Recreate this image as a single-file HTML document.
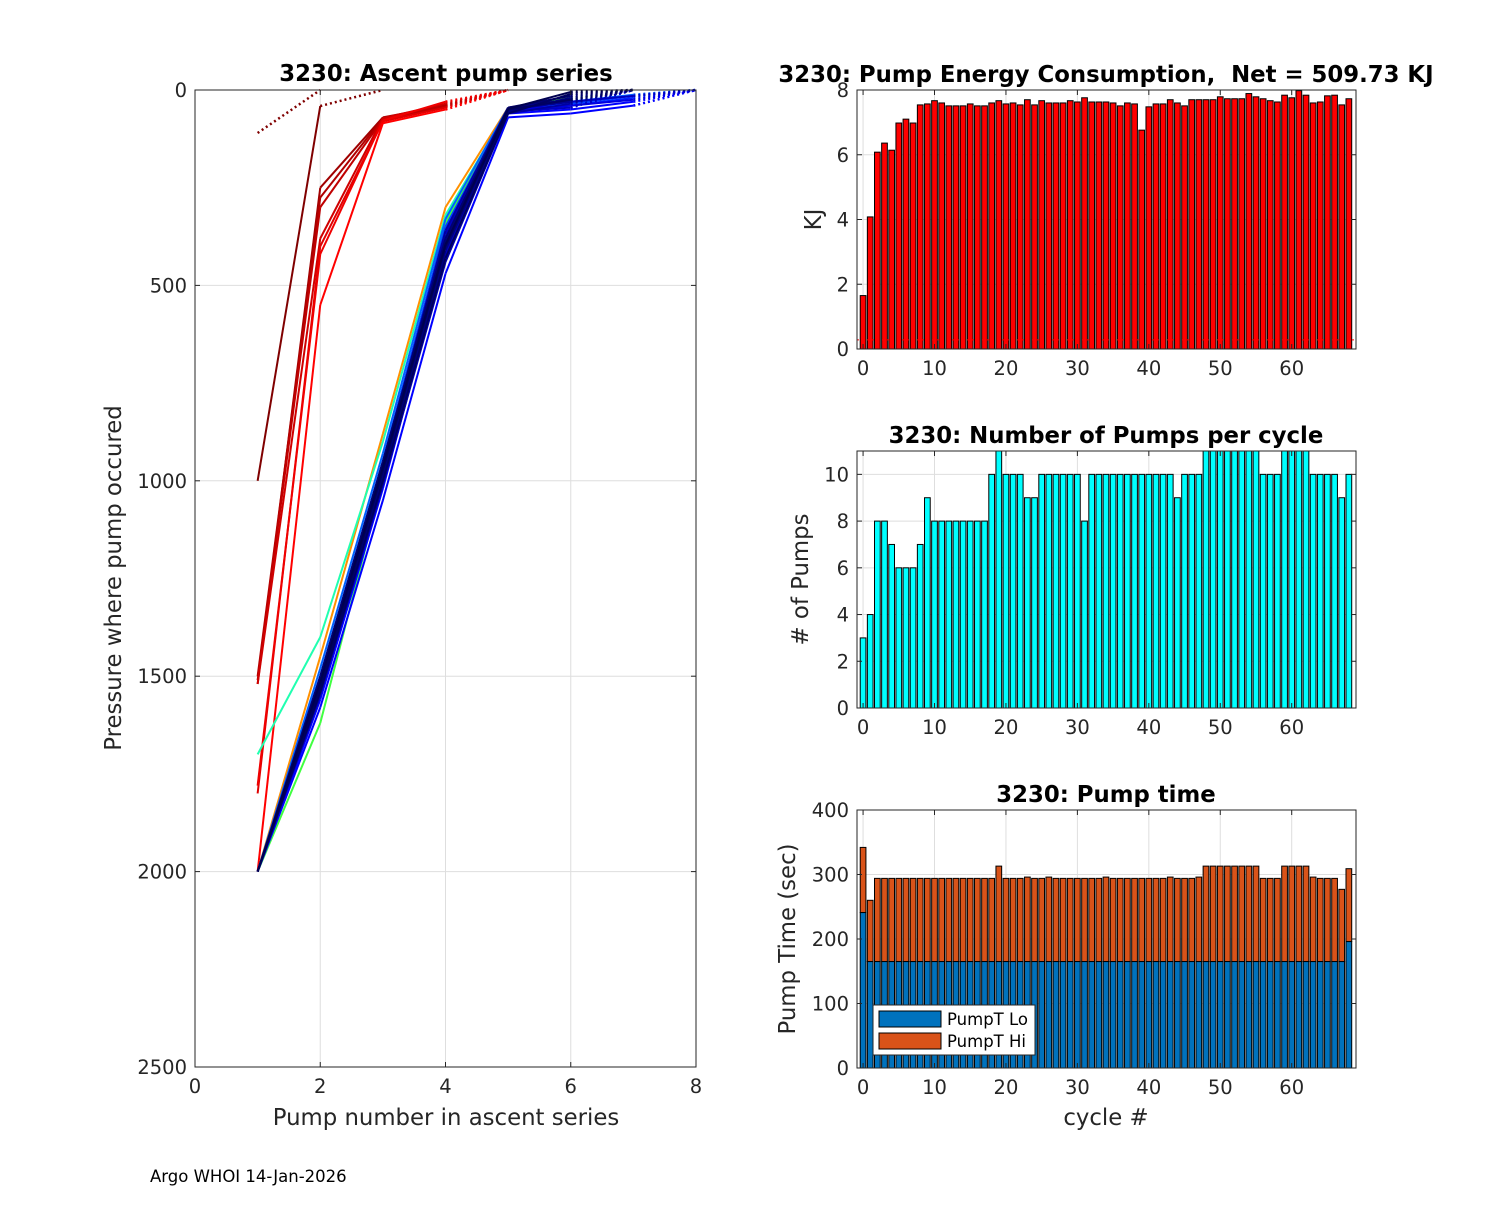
<!DOCTYPE html>
<html><head><meta charset="utf-8"><style>
body{margin:0;background:#fff;width:1500px;height:1200px;overflow:hidden}
svg{font-family:"DejaVu Sans","Liberation Sans",sans-serif}
</style></head><body>
<svg id="fig" width="1500" height="1200" xmlns="http://www.w3.org/2000/svg">
<rect width="1500" height="1200" fill="#fff"/>
<text x="150" y="1182" font-size="16.5" fill="#000">Argo WHOI 14-Jan-2026</text>
</svg>
<script>
const cycles = Array.from({length:69},(_,i)=>i);
const energyKJ = [1.65,4.08,6.08,6.36,6.14,6.98,7.1,6.98,7.54,7.57,7.67,7.6,7.51,7.51,7.51,7.57,7.51,7.51,7.6,7.67,7.57,7.6,7.54,7.7,7.54,7.67,7.6,7.6,7.6,7.67,7.63,7.76,7.63,7.63,7.63,7.6,7.51,7.6,7.57,6.76,7.48,7.57,7.57,7.7,7.6,7.51,7.7,7.7,7.7,7.7,7.79,7.73,7.73,7.73,7.89,7.79,7.73,7.67,7.63,7.84,7.76,7.98,7.84,7.6,7.63,7.82,7.84,7.54,7.73];
const numPumps = [3,4,8,8,7,6,6,6,7,9,8,8,8,8,8,8,8,8,10,11,10,10,10,9,9,10,10,10,10,10,10,8,10,10,10,10,10,10,10,10,10,10,10,10,9,10,10,10,11,11,11,11,11,11,11,11,10,10,10,11,11,11,11,10,10,10,10,9,10];
const pumpLo = [241,165,165,165,165,165,165,165,165,165,165,165,165,165,165,165,165,165,165,165,165,165,165,165,165,165,165,165,165,165,165,165,165,165,165,165,165,165,165,165,165,165,165,165,165,165,165,165,165,165,165,165,165,165,165,165,165,165,165,165,165,165,165,165,165,165,165,165,196];
const pumpTotal = [342,260,294,294,294,294,294,294,294,294,294,294,294,294,294,294,294,294,294,313,294,294,294,296,294,294,296,294,294,294,294,294,294,294,296,294,294,294,294,294,294,294,294,296,294,294,294,296,313,313,313,313,313,313,313,313,294,294,294,313,313,313,313,296,294,294,294,277,309];
const profiles = [
 {c:"#800000",p:[110,0]},
 {c:"#800000",p:[1000,41,0]},
 {c:"#a00000",p:[1520,250,70,40,0]},
 {c:"#b00000",p:[1500,275,72,38,0]},
 {c:"#c00000",p:[1510,300,75,42,0]},
 {c:"#d00000",p:[1520,380,72,35,0]},
 {c:"#e00000",p:[1800,400,80,45,0]},
 {c:"#f00000",p:[1780,420,78,30,0]},
 {c:"#ff0000",p:[2000,550,85,50,0]},
 {c:"#ff9000",p:[2000,1450,880,300,45,20,0]},
 {c:"#20ffb0",p:[1700,1400,900,320,50,25,0]},
 {c:"#40ff40",p:[2000,1620,1000,340,50,20,0]},
 {c:"#0060ff",p:[2000,1480,930,330,45,30,12,0]},
 {c:"#0040ff",p:[2000,1500,950,350,50,35,15,0]},
 {c:"#0020ff",p:[2000,1530,980,380,55,40,20,0]},
 {c:"#0000ff",p:[2000,1560,1020,420,60,50,30,0]},
 {c:"#0000ff",p:[2000,1580,1050,470,70,60,40,0]},
 {c:"#0000e0",p:[2000,1540,990,400,50,40,25,0]},
 {c:"#0000c0",p:[2000,1520,970,370,50,30,15,0]},
 {c:"#0000c0",p:[2000,1550,1000,420,55,45,0]},
 {c:"#0000a0",p:[2000,1510,960,360,45,25,0]},
 {c:"#0000a0",p:[2000,1545,1010,440,60,35,0]},
 {c:"#000090",p:[2000,1520,980,390,50,30,0]},
 {c:"#000080",p:[2000,1530,990,410,55,20,0]},
 {c:"#000070",p:[2000,1500,950,380,45,15,0]},
 {c:"#000060",p:[2000,1540,1000,430,60,10,0]},
 {c:"#000060",p:[2000,1525,975,400,50,25,0]},
 {c:"#000050",p:[2000,1515,965,395,48,5,0]}
];
const pyTicks=[0,500,1000,1500,2000,2500], pxTicks=[0,2,4,6,8];
const cxTicks=[0,10,20,30,40,50,60];

const NS="http://www.w3.org/2000/svg", svg=document.getElementById('fig');
function mk(tag,at,parent){const e=document.createElementNS(NS,tag);for(const k in at)e.setAttribute(k,at[k]);(parent||svg).appendChild(e);return e;}
function txt(s,x,y,size,anchor,bold,parent){const t=mk('text',{x:x,y:y,'font-size':size,'text-anchor':anchor||'middle',fill:bold?'#000':'#262626','font-weight':bold?'bold':'normal'},parent);t.textContent=s;return t;}
const TICK=19.5, LAB=22.8, TIT=22.8;

const L={x0:195,x1:696,y0:90,y1:1067};
const lx=v=>L.x0+v/8*(L.x1-L.x0), ly=v=>L.y0+v/2500*(L.y1-L.y0);
const gL=mk('g',{});


pxTicks.forEach(t=>{mk('line',{x1:lx(t),x2:lx(t),y1:L.y0,y2:L.y1,stroke:'#dedede'},gL);});
pyTicks.forEach(t=>{mk('line',{x1:L.x0,x2:L.x1,y1:ly(t),y2:ly(t),stroke:'#dedede'},gL);});
profiles.forEach((pr,i)=>{
  const n=pr.p.length;
  for(let k=0;k<n-1;k++){
    const last=(k===n-2);
    const l=mk('line',{x1:lx(k+1),y1:ly(pr.p[k]),x2:lx(k+2),y2:ly(pr.p[k+1]),stroke:pr.c,'stroke-width':last?2.5:2,'stroke-dasharray':last?'2 3':'none'},gL);
    
    
  }
});
mk('rect',{x:L.x0,y:L.y0,width:L.x1-L.x0,height:L.y1-L.y0,fill:'none',stroke:'#262626'},gL);
pxTicks.forEach(t=>{mk('line',{x1:lx(t),x2:lx(t),y1:L.y1,y2:L.y1-5,stroke:'#262626'},gL);mk('line',{x1:lx(t),x2:lx(t),y1:L.y0,y2:L.y0+5,stroke:'#262626'},gL);txt(t,lx(t),L.y1+26,TICK,'middle',false,gL);});
pyTicks.forEach(t=>{mk('line',{x1:L.x0,x2:L.x0+5,y1:ly(t),y2:ly(t),stroke:'#262626'},gL);mk('line',{x1:L.x1,x2:L.x1-5,y1:ly(t),y2:ly(t),stroke:'#262626'},gL);txt(t,L.x0-8,ly(t)+7,TICK,'end',false,gL);});
let t1=txt('3230: Ascent pump series',446,81,TIT,'middle',true,gL);

let t2=txt('Pump number in ascent series',446,1125,LAB,'middle',false,gL);

let t3=txt('Pressure where pump occured',0,0,LAB,'middle',false,gL);
t3.setAttribute('transform','translate(121,578) rotate(-90)');


const R={x0:857,x1:1356,xmin:-0.85,xmax:69};
const cx=v=>R.x0+(v-R.xmin)/(R.xmax-R.xmin)*(R.x1-R.x0);
const bw=0.8*(R.x1-R.x0)/(R.xmax-R.xmin);
function panel(name,y0,y1,ymax,yticks,title,ylab,ylabX){
  const g=mk('g',{});
  
  
  const y=v=>y1-v/ymax*(y1-y0);
  cxTicks.forEach(t=>mk('line',{x1:cx(t),x2:cx(t),y1:y0,y2:y1,stroke:'#dedede'},g));
  yticks.forEach(t=>mk('line',{x1:R.x0,x2:R.x1,y1:y(t),y2:y(t),stroke:'#dedede'},g));
  return {g,y,finish(){
    mk('rect',{x:R.x0,y:y0,width:R.x1-R.x0,height:y1-y0,fill:'none',stroke:'#262626'},g);
    cxTicks.forEach(t=>{mk('line',{x1:cx(t),x2:cx(t),y1:y1,y2:y1-5,stroke:'#262626'},g);mk('line',{x1:cx(t),x2:cx(t),y1:y0,y2:y0+5,stroke:'#262626'},g);txt(t,cx(t),y1+26,TICK,'middle',false,g);});
    yticks.forEach(t=>{mk('line',{x1:R.x0,x2:R.x0+5,y1:y(t),y2:y(t),stroke:'#262626'},g);mk('line',{x1:R.x1,x2:R.x1-5,y1:y(t),y2:y(t),stroke:'#262626'},g);txt(t,R.x0-8,y(t)+7,TICK,'end',false,g);});
    const tt=txt(title,1106,y0-8,TIT,'middle',true,g);
    
    const yl=txt(ylab,0,0,LAB,'middle',false,g);
    yl.setAttribute('transform','translate('+ylabX+','+((y0+y1)/2)+') rotate(-90)');
    
  }};
}
const P1=panel('energy-chart',90,349,8,[0,2,4,6,8],'3230: Pump Energy Consumption,\u00a0 Net = 509.73 KJ','KJ',821);
cycles.forEach((c,i)=>{const r=mk('rect',{x:cx(c)-bw/2,y:P1.y(energyKJ[i]),width:bw,height:P1.y(0)-P1.y(energyKJ[i]),fill:'#ff0000',stroke:'#000','stroke-width':1},P1.g);
 });
mk('line',{x1:R.x0,x2:R.x1,y1:P1.y(0.28),y2:P1.y(0.28),stroke:'#ff0000','stroke-dasharray':'2 3'},P1.g);
P1.finish();
const P2=panel('pumps-chart',451,708,11,[0,2,4,6,8,10],'3230: Number of Pumps per cycle','# of Pumps',808);
cycles.forEach((c,i)=>{const r=mk('rect',{x:cx(c)-bw/2,y:P2.y(numPumps[i]),width:bw,height:P2.y(0)-P2.y(numPumps[i]),fill:'#00ffff',stroke:'#000','stroke-width':1},P2.g);
 });
P2.finish();
const P3=panel('pumptime-chart',810,1068,400,[0,100,200,300,400],'3230: Pump time','Pump Time (sec)',795);
cycles.forEach((c,i)=>{
 const hi=mk('rect',{x:cx(c)-bw/2,y:P3.y(pumpTotal[i]),width:bw,height:P3.y(pumpLo[i])-P3.y(pumpTotal[i]),fill:'#d95319',stroke:'#000','stroke-width':1},P3.g);
 
 const lo=mk('rect',{x:cx(c)-bw/2,y:P3.y(pumpLo[i]),width:bw,height:P3.y(0)-P3.y(pumpLo[i]),fill:'#0072bd',stroke:'#000','stroke-width':1},P3.g);
 
});
P3.finish();
const xl=txt('cycle #',1106,1125,LAB,'middle',false,P3.g);

const lg=mk('g',{},P3.g);

mk('rect',{x:873,y:1005,width:162,height:50,fill:'#fff',stroke:'#262626'},lg);
mk('rect',{x:879,y:1011,width:62,height:16,fill:'#0072bd',stroke:'#000'},lg);
mk('rect',{x:879,y:1033,width:62,height:16,fill:'#d95319',stroke:'#000'},lg);
const le1=txt('PumpT Lo',947,1025,16.5,'start',false,lg);le1.setAttribute('fill','#000');

const le2=txt('PumpT Hi',947,1047,16.5,'start',false,lg);le2.setAttribute('fill','#000');

</script>
</body></html>
